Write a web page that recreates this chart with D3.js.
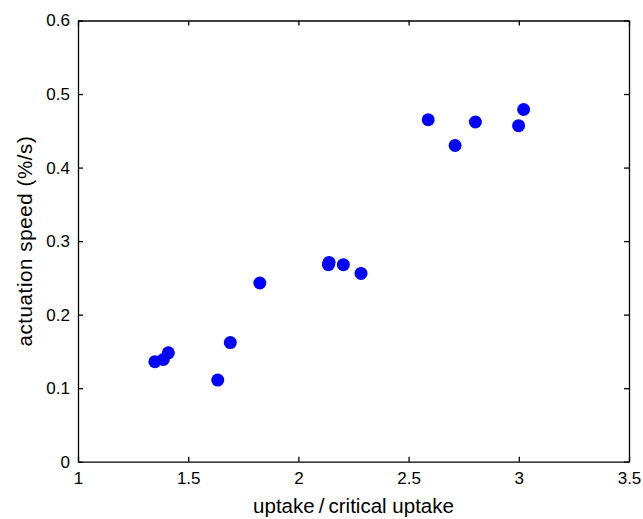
<!DOCTYPE html>
<html>
<head>
<meta charset="utf-8">
<script src="https://cdn.jsdelivr.net/npm/d3@7"></script>
<style>
  body { margin: 0; background: #fff; }
  #chart { width: 643px; height: 519px; }
  .axis text { font-family: "Liberation Sans", Arial, sans-serif; font-size: 17px; fill: #000; }
  .axis path, .axis line { stroke: #000; stroke-width: 1.3; }
  .label { font-family: "Liberation Sans", Arial, sans-serif; font-size: 20.5px; fill: #000; }
</style>
</head>
<body>
<div id="chart"></div>
<script>
const uptakeRatio = [1.349, 1.387, 1.410, 1.634, 1.691, 1.825, 2.139, 2.136, 2.204, 2.284, 2.589, 2.711, 2.803, 2.999, 3.022];
const actuationSpeed = [0.136, 0.139, 0.148, 0.111, 0.162, 0.243, 0.271, 0.268, 0.268, 0.256, 0.465, 0.430, 0.462, 0.457, 0.479];
const xTicks = [1, 1.5, 2, 2.5, 3, 3.5];
const yTicks = [0, 0.1, 0.2, 0.3, 0.4, 0.5, 0.6];

const width = 643, height = 519;
const margin = { top: 20.5, right: 14, bottom: 57.3, left: 78 };
const innerW = width - margin.left - margin.right;
const innerH = height - margin.top - margin.bottom;

const svg = d3.select("#chart").append("svg").attr("width", width).attr("height", height);
const g = svg.append("g").attr("transform", `translate(${margin.left},${margin.top})`);

const x = d3.scaleLinear().domain([1, 3.5]).range([0, innerW]);
const y = d3.scaleLinear().domain([0, 0.6]).range([innerH, 0]);

const fmt = d => d3.format("")(d);

// bottom & left with labels, ticks pointing inward
g.append("g").attr("class", "axis")
  .attr("transform", `translate(0,${innerH})`)
  .call(d3.axisBottom(x).tickValues(xTicks).tickFormat(fmt).tickSizeInner(-5).tickSizeOuter(0).tickPadding(10));

g.append("g").attr("class", "axis")
  .call(d3.axisLeft(y).tickValues(yTicks).tickFormat(fmt).tickSizeInner(-5).tickSizeOuter(0).tickPadding(8));

// top & right box lines with inward ticks
g.append("g").attr("class", "axis")
  .call(d3.axisTop(x).tickValues(xTicks).tickFormat("").tickSizeInner(-5).tickSizeOuter(0));

g.append("g").attr("class", "axis")
  .attr("transform", `translate(${innerW},0)`)
  .call(d3.axisRight(y).tickValues(yTicks).tickFormat("").tickSizeInner(-5).tickSizeOuter(0));

g.selectAll("circle.pt")
  .data(uptakeRatio.map((v, i) => ({ x: v, y: actuationSpeed[i] })))
  .enter()
  .append("circle")
  .attr("class", "pt")
  .attr("cx", d => x(d.x))
  .attr("cy", d => y(d.y))
  .attr("r", 6.5)
  .attr("fill", "#0000ff");

svg.append("text").attr("class", "label")
  .attr("x", margin.left + innerW / 2)
  .attr("y", 513)
  .attr("text-anchor", "middle")
  .text("uptake\u2009/\u2009critical uptake");

svg.append("text").attr("class", "label")
  .attr("transform", `translate(32,${margin.top + innerH / 2}) rotate(-90)`)
  .attr("text-anchor", "middle")
  .style("letter-spacing", "0.6px")
  .text("actuation speed (%/s)");
</script>
</body>
</html>
